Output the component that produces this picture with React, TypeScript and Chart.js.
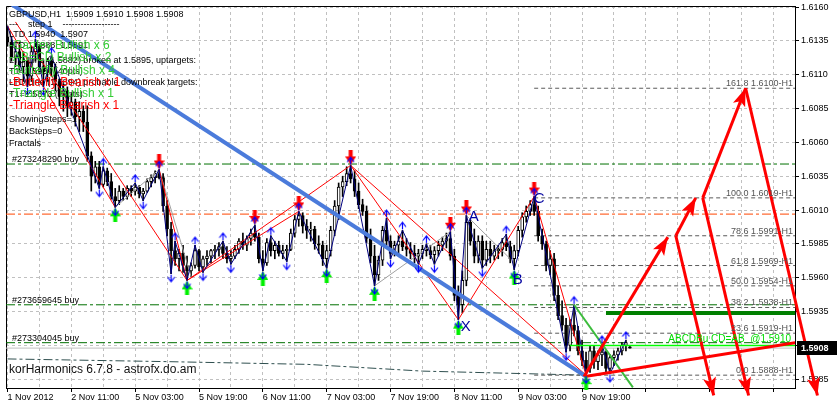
import React, { useEffect, useRef } from 'react';
import { Chart, registerables } from 'chart.js';

Chart.register(...registerables);

// ---------- DATA ----------
const OPENS = [
  1.6138, 1.6134, 1.6123, 1.6127, 1.6116, 1.6120, 1.6109, 1.6127, 1.6131, 1.6116,
  1.6112, 1.6120, 1.6116, 1.6105, 1.6094, 1.6098, 1.6087, 1.6090, 1.6079, 1.6083,
  1.6075, 1.6050, 1.6035, 1.6042, 1.6029, 1.6039, 1.6031, 1.6020, 1.6017, 1.6024,
  1.6020, 1.6026, 1.6024, 1.6027, 1.6022, 1.6024, 1.6031, 1.6034, 1.6037, 1.6034,
  1.6013, 1.5996, 1.5980, 1.5974, 1.5978, 1.5969, 1.5965, 1.5969, 1.5980, 1.5968,
  1.5974, 1.5976, 1.5980, 1.5981, 1.5983, 1.5978, 1.5974, 1.5976, 1.5981, 1.5987,
  1.5984, 1.5989, 1.5993, 1.5990, 1.5974, 1.5971, 1.5986, 1.5980, 1.5984, 1.5978,
  1.5980, 1.5981, 1.5993, 1.6003, 1.6006, 1.5998, 1.5995, 1.5996, 1.5985, 1.5984,
  1.5974, 1.5980, 1.5995, 1.6013, 1.6027, 1.6031, 1.6037, 1.6033, 1.6024, 1.6014,
  1.6009, 1.5989, 1.5976, 1.5962, 1.5973, 1.5995, 1.5987, 1.5978, 1.5984, 1.5987,
  1.5983, 1.5981, 1.5978, 1.5976, 1.5978, 1.5981, 1.5980, 1.5977, 1.5980, 1.5984,
  1.5987, 1.5989, 1.5976, 1.5947, 1.5940, 1.5958, 1.6001, 1.5987, 1.5976, 1.5987,
  1.5973, 1.5981, 1.5976, 1.5980, 1.5981, 1.5986, 1.5983, 1.5974, 1.5980, 1.5995,
  1.6005, 1.6009, 1.6014, 1.6009, 1.5991, 1.5985, 1.5969, 1.5974, 1.5947, 1.5932,
  1.5925, 1.5910, 1.5925, 1.5921, 1.5906, 1.5899, 1.5893, 1.5906, 1.5898, 1.5903,
  1.5905, 1.5893, 1.5901, 1.5903, 1.5906, 1.5910, 1.5909,
];
const HIGHS = [
  1.6146, 1.6138, 1.6131, 1.6134, 1.6127, 1.6123, 1.6131, 1.6136, 1.6132, 1.6120,
  1.6122, 1.6124, 1.6118, 1.6107, 1.6103, 1.6101, 1.6096, 1.6092, 1.6090, 1.6087,
  1.6087, 1.6053, 1.6046, 1.6046, 1.6042, 1.6041, 1.6037, 1.6026, 1.6028, 1.6026,
  1.6028, 1.6028, 1.6030, 1.6028, 1.6026, 1.6033, 1.6036, 1.6039, 1.6040, 1.6037,
  1.6017, 1.6001, 1.5987, 1.5981, 1.5984, 1.5976, 1.5971, 1.5984, 1.5981, 1.5976,
  1.5980, 1.5981, 1.5984, 1.5986, 1.5987, 1.5983, 1.5980, 1.5984, 1.5989, 1.5993,
  1.5991, 1.5996, 1.5999, 1.5993, 1.5980, 1.5989, 1.5991, 1.5987, 1.5987, 1.5984,
  1.5984, 1.5996, 1.6006, 1.6009, 1.6008, 1.6003, 1.6001, 1.5998, 1.5991, 1.5987,
  1.5984, 1.5998, 1.6017, 1.6030, 1.6035, 1.6042, 1.6043, 1.6039, 1.6030, 1.6018,
  1.6013, 1.5996, 1.5984, 1.5976, 1.5998, 1.6004, 1.5991, 1.5987, 1.5991, 1.5995,
  1.5989, 1.5986, 1.5984, 1.5981, 1.5984, 1.5985, 1.5984, 1.5983, 1.5987, 1.5990,
  1.5993, 1.5994, 1.5981, 1.5954, 1.5965, 1.6006, 1.6003, 1.5996, 1.5991, 1.5991,
  1.5987, 1.5987, 1.5984, 1.5984, 1.5989, 1.5992, 1.5987, 1.5984, 1.5998, 1.6008,
  1.6013, 1.6017, 1.6020, 1.6013, 1.5996, 1.5987, 1.5980, 1.5978, 1.5954, 1.5943,
  1.5930, 1.5929, 1.5940, 1.5924, 1.5914, 1.5905, 1.5910, 1.5910, 1.5906, 1.5911,
  1.5906, 1.5903, 1.5906, 1.5908, 1.5912, 1.5914, 1.5910,
];
const LOWS = [
  1.6131, 1.6120, 1.6116, 1.6112, 1.6105, 1.6101, 1.6105, 1.6120, 1.6112, 1.6101,
  1.6105, 1.6109, 1.6098, 1.6087, 1.6083, 1.6079, 1.6080, 1.6072, 1.6068, 1.6068,
  1.6046, 1.6024, 1.6030, 1.6026, 1.6027, 1.6028, 1.6018, 1.6012, 1.6014, 1.6017,
  1.6018, 1.6020, 1.6021, 1.6019, 1.6017, 1.6023, 1.6027, 1.6030, 1.6033, 1.6009,
  1.5991, 1.5963, 1.5969, 1.5965, 1.5964, 1.5958, 1.5961, 1.5967, 1.5965, 1.5964,
  1.5969, 1.5971, 1.5974, 1.5976, 1.5974, 1.5971, 1.5970, 1.5974, 1.5978, 1.5981,
  1.5980, 1.5984, 1.5987, 1.5971, 1.5965, 1.5969, 1.5976, 1.5974, 1.5976, 1.5974,
  1.5972, 1.5980, 1.5990, 1.5998, 1.5993, 1.5989, 1.5987, 1.5981, 1.5978, 1.5969,
  1.5967, 1.5976, 1.5991, 1.6003, 1.6020, 1.6028, 1.6030, 1.6020, 1.6011, 1.6006,
  1.5986, 1.5971, 1.5954, 1.5958, 1.5969, 1.5984, 1.5974, 1.5976, 1.5978, 1.5980,
  1.5976, 1.5974, 1.5971, 1.5970, 1.5974, 1.5976, 1.5974, 1.5970, 1.5976, 1.5980,
  1.5982, 1.5973, 1.5943, 1.5929, 1.5934, 1.5954, 1.5984, 1.5971, 1.5971, 1.5967,
  1.5969, 1.5971, 1.5973, 1.5974, 1.5976, 1.5980, 1.5971, 1.5966, 1.5976, 1.5990,
  1.6001, 1.6006, 1.6006, 1.5987, 1.5981, 1.5965, 1.5962, 1.5943, 1.5929, 1.5921,
  1.5905, 1.5906, 1.5917, 1.5903, 1.5895, 1.5888, 1.5890, 1.5893, 1.5892, 1.5895,
  1.5890, 1.5889, 1.5895, 1.5899, 1.5903, 1.5906, 1.5908,
];
const CLOSES = [
  1.6134, 1.6123, 1.6127, 1.6116, 1.6120, 1.6109, 1.6127, 1.6131, 1.6116, 1.6112,
  1.6120, 1.6116, 1.6105, 1.6094, 1.6098, 1.6087, 1.6090, 1.6079, 1.6083, 1.6075,
  1.6050, 1.6035, 1.6042, 1.6029, 1.6039, 1.6031, 1.6020, 1.6017, 1.6024, 1.6020,
  1.6026, 1.6024, 1.6027, 1.6022, 1.6024, 1.6031, 1.6034, 1.6037, 1.6034, 1.6013,
  1.5996, 1.5980, 1.5974, 1.5978, 1.5969, 1.5965, 1.5969, 1.5980, 1.5968, 1.5974,
  1.5976, 1.5980, 1.5981, 1.5983, 1.5978, 1.5974, 1.5976, 1.5981, 1.5987, 1.5984,
  1.5989, 1.5993, 1.5990, 1.5974, 1.5971, 1.5986, 1.5980, 1.5984, 1.5978, 1.5980,
  1.5981, 1.5993, 1.6003, 1.6006, 1.5998, 1.5995, 1.5996, 1.5985, 1.5984, 1.5974,
  1.5980, 1.5995, 1.6013, 1.6027, 1.6031, 1.6037, 1.6033, 1.6024, 1.6014, 1.6009,
  1.5989, 1.5976, 1.5962, 1.5973, 1.5995, 1.5987, 1.5978, 1.5984, 1.5987, 1.5983,
  1.5981, 1.5978, 1.5976, 1.5978, 1.5981, 1.5980, 1.5977, 1.5980, 1.5984, 1.5987,
  1.5989, 1.5976, 1.5947, 1.5940, 1.5958, 1.6001, 1.5987, 1.5976, 1.5987, 1.5973,
  1.5981, 1.5976, 1.5980, 1.5981, 1.5986, 1.5983, 1.5974, 1.5980, 1.5995, 1.6005,
  1.6009, 1.6014, 1.6009, 1.5991, 1.5985, 1.5969, 1.5974, 1.5947, 1.5932, 1.5925,
  1.5910, 1.5925, 1.5921, 1.5906, 1.5899, 1.5893, 1.5906, 1.5898, 1.5903, 1.5905,
  1.5893, 1.5901, 1.5903, 1.5906, 1.5910, 1.5912, 1.5908,
];

const X_TICK_LABELS = [
  '1 Nov 2012', '2 Nov 11:00', '5 Nov 03:00', '5 Nov 19:00', '6 Nov 11:00',
  '7 Nov 03:00', '7 Nov 19:00', '8 Nov 11:00', '9 Nov 03:00', '9 Nov 19:00',
];
const Y_TICKS = [1.5885, 1.5910, 1.5935, 1.5960, 1.5985, 1.6010, 1.6035, 1.6060, 1.6085, 1.6110, 1.6135, 1.6160];
const CURRENT_PRICE = 1.5908;

const FIB_LEVELS = [161.8, 100.0, 78.6, 61.8, 50.0, 38.2, 23.6, 0.0];
const FIB_PRICES = [1.6100, 1.6019, 1.5991, 1.5969, 1.5954, 1.5938, 1.5919, 1.5888];
const FIB_START_BAR = 132;

const ORDER_NAMES = ['#273248290 buy', '#273659645 buy', '#273304045 buy'];
const ORDER_PRICES = [1.6044, 1.5940, 1.5912];
const ALERT_PRICE = 1.6007;
const LTD_LINE = [[0, 1.5900], [40, 1.5898], [75, 1.5896], [104, 1.5891], [145, 1.5888]];

const ZIGZAG: [number, string][] = [
  [0, 'H'], [5, 'L'], [7, 'H'], [9, 'L'], [11, 'H'], [23, 'L'], [24, 'H'], [27, 'L'], [32, 'H'], [34, 'L'],
  [38, 'H'], [41, 'L'], [42, 'H'], [45, 'L'], [47, 'H'], [49, 'L'], [54, 'H'], [56, 'L'], [62, 'H'], [64, 'L'],
  [66, 'H'], [70, 'L'], [73, 'H'], [80, 'L'], [86, 'H'], [92, 'L'], [95, 'H'], [96, 'L'], [99, 'H'], [103, 'L'],
  [105, 'H'], [107, 'L'], [111, 'H'], [113, 'L'], [115, 'H'], [119, 'L'], [125, 'H'], [127, 'L'], [132, 'H'],
  [140, 'L'], [142, 'H'], [145, 'L'], [149, 'H'], [151, 'L'], [155, 'H'],
];
const RED_ARROW_BARS = [38, 62, 73, 86, 111, 115, 132];
const GREEN_ARROW_BARS = [27, 45, 64, 80, 92, 113, 127, 145];

const RED_THIN_LINES = [
  [0, 1.6146, 27, 1.6012], [2, 1.6149, 45, 1.5958], [38, 1.6040, 45, 1.5958],
  [45, 1.5958, 73, 1.6009], [45, 1.5958, 86, 1.6043], [86, 1.6043, 113, 1.5929],
  [86, 1.6043, 145, 1.5888], [113, 1.5929, 132, 1.6020], [132, 1.6020, 145, 1.5888],
];
const GRAY_LINES = [
  [27, 1.6012, 38, 1.6040], [38, 1.6040, 46, 1.5961], [92, 1.5954, 111, 1.5994], [115, 1.6006, 126, 1.5974],
];
const TREND_LINE = [[1, 1.6162], [145, 1.5887]];
const PROJ_ARROWS = [
  [144.5, 1.5887, 165.5, 1.5990], [167.5, 1.5991, 172.5, 1.6019], [174.25, 1.6019, 185, 1.6100],
  [167.5, 1.5991, 177, 1.5873], [174.25, 1.6019, 185.75, 1.5873], [185, 1.6100, 203, 1.5873],
];
const PROJ_BASE_LINE = [[144.75, 1.5887], [197.4, 1.5912]];
const GREEN_PATTERN_LINE = [[142, 1.5940], [156.75, 1.5879]];
const ABCD_PRICE = 1.5910;
const ABCD_START_BAR = 141;
const ABCD_TEXT = 'ABCDBu CD=AB  @1.5910';
const TARGET_PRICE = 1.5934;
const TARGET_START_BAR = 150;

const LETTERS = ['X', 'A', 'B', 'C'];
const LETTER_BARS = [113, 115, 127, 132];
const LETTER_KIND = ['L', 'H', 'L', 'H'];

const INFO_LINES = [
  'GBPUSD,H1  1.5909 1.5910 1.5908 1.5908',
  '---    step 1    -------------------',
  'LTD 1.5940  1.5907',
  'LTD 1.5888  1.5891',
  'LTD Line (1.5882) broken at 1.5895, uptargets:',
  'T1=1.5934 (40pts)',
  'LTD Line (1.5894) probable downbreak targets:',
  'T1=1.5873 (20pts)',
  'ShowingSteps=1',
  'BackSteps=0',
  'Fractals',
];
const PATTERN_LINES = [
  '-Gartley Bullish x 6', '-AB=CD Bullish x 2', '-Butterfly Bullish x 4',
  '-Butterfly Bearish x 1', '-Triangle Bullish x 1', '-Triangle Bearish x 1',
];
const PATTERN_BULL = [true, true, true, false, true, false];
const WATERMARK = 'korHarmonics 6.7.8 - astrofx.do.am';

// ---------- LAYOUT / STYLE ----------
const W = 837;
const H = 407;
const X_MIN = -0.375;
const X_MAX = 197.375;
const Y_MIN = 1.587852;
const Y_MAX = 1.616076;
const X_GRID_STEP = 8;
const FONT = '"Liberation Sans", Arial, sans-serif';
const INFO_BASELINES = [17, 27, 37, 48, 63, 74, 85, 97, 122, 134, 146];
const PATTERN_BASELINES = [49, 61, 74, 86, 97, 109];
const LETTER_OFFSETS = [[2.5, 11], [2.5, 5.5], [-1.5, 14], [-0.5, 6.5]];
const DASHDOT = [9, 3, 3, 3];

function makeBigArrow(color: string, up: boolean): HTMLCanvasElement {
  const c = document.createElement('canvas');
  c.width = 11;
  c.height = 30;
  const g = c.getContext('2d') as CanvasRenderingContext2D;
  g.fillStyle = color;
  if (!up) {
    g.fillRect(3.5, 0, 4, 8);
    g.beginPath();
    g.moveTo(0, 6);
    g.lineTo(11, 6);
    g.lineTo(5.5, 14.5);
    g.closePath();
    g.fill();
  } else {
    g.fillRect(3.5, 22, 4, 8);
    g.beginPath();
    g.moveTo(0, 24);
    g.lineTo(11, 24);
    g.lineTo(5.5, 15.5);
    g.closePath();
    g.fill();
  }
  return c;
}

function makeFractal(up: boolean): HTMLCanvasElement {
  const c = document.createElement('canvas');
  c.width = 9;
  c.height = 24;
  const g = c.getContext('2d') as CanvasRenderingContext2D;
  g.strokeStyle = '#0000ff';
  g.lineWidth = 1.2;
  g.beginPath();
  if (up) {
    g.moveTo(1, 8.5); g.lineTo(4.5, 4); g.lineTo(8, 8.5);
    g.moveTo(4.5, 4); g.lineTo(4.5, 11);
  } else {
    g.moveTo(1, 15.5); g.lineTo(4.5, 20); g.lineTo(8, 15.5);
    g.moveTo(4.5, 20); g.lineTo(4.5, 13);
  }
  g.stroke();
  return c;
}

const lineDs = (pts: number[][], color: string, width: number, order: number, extra: any = {}) => ({
  type: 'line',
  data: pts.map((p) => ({ x: p[0], y: p[1] })),
  borderColor: color,
  borderWidth: width,
  pointRadius: 0,
  pointHoverRadius: 0,
  pointHitRadius: 0,
  fill: false,
  tension: 0,
  order,
  ...extra,
});

const zzPrice = (bar: number, kind: string) => (kind === 'H' ? HIGHS[bar] : LOWS[bar]);

export default function App() {
  const ref = useRef<HTMLCanvasElement | null>(null);

  useEffect(() => {
    document.body.style.margin = '0';
    const canvas = ref.current;
    if (!canvas) return;

    const redArrow = makeBigArrow('#ff0000', false);
    const greenArrow = makeBigArrow('#00f000', true);
    const fracUp = makeFractal(true);
    const fracDown = makeFractal(false);

    const bars = CLOSES.map((_, i) => i);
    const datasets: any[] = [];

    FIB_PRICES.forEach((p) =>
      datasets.push(lineDs([[FIB_START_BAR, p], [X_MAX, p]], '#5a5a5a', 1, 100, { borderDash: [4, 3] }))
    );
    ORDER_PRICES.forEach((p) =>
      datasets.push(lineDs([[X_MIN, p], [X_MAX, p]], '#007000', 1, 100, { borderDash: DASHDOT }))
    );
    datasets.push(lineDs([[X_MIN, ALERT_PRICE], [X_MAX, ALERT_PRICE]], '#ff4500', 1, 100, { borderDash: DASHDOT }));
    datasets.push(lineDs([[X_MIN, CURRENT_PRICE], [X_MAX, CURRENT_PRICE]], '#c0c0c0', 1, 100));
    datasets.push(lineDs(LTD_LINE, '#2f4f4f', 1, 100, { borderDash: DASHDOT }));

    datasets.push({
      type: 'bar',
      data: bars.map((i) => ({ x: i, y: [LOWS[i], HIGHS[i]] })),
      backgroundColor: '#000000',
      borderWidth: 0,
      barThickness: 1,
      grouped: false,
      order: 95,
    });
    datasets.push({
      type: 'bar',
      data: bars.map((i) => ({ x: i, y: [OPENS[i], CLOSES[i]] })),
      backgroundColor: bars.map((i) => (CLOSES[i] > OPENS[i] ? '#ffffff' : '#000000')),
      borderColor: '#000000',
      borderWidth: 1,
      borderSkipped: false,
      barThickness: 3,
      grouped: false,
      order: 94,
    });

    GRAY_LINES.forEach((l) => datasets.push(lineDs([[l[0], l[1]], [l[2], l[3]]], '#a0a0a0', 1, 80)));
    RED_THIN_LINES.forEach((l) => datasets.push(lineDs([[l[0], l[1]], [l[2], l[3]]], '#ff0000', 1, 79)));
    datasets.push(lineDs(ZIGZAG.map(([b, k]) => [b, zzPrice(b, k)]), '#000080', 1, 78));
    datasets.push(lineDs(TREND_LINE, '#4b7bdb', 4, 77));

    datasets.push(lineDs(GREEN_PATTERN_LINE, '#3cbc3c', 2, 70));
    datasets.push(lineDs([[ABCD_START_BAR, ABCD_PRICE], [X_MAX, ABCD_PRICE]], '#00ff00', 1.5, 70));
    datasets.push(lineDs([[TARGET_START_BAR, TARGET_PRICE], [X_MAX, TARGET_PRICE]], '#007f00', 4, 70));

    PROJ_ARROWS.forEach((l) =>
      datasets.push(lineDs([[l[0], l[1]], [l[2], l[3]]], '#ff0000', 3, 60, { clip: false, arrowHead: true }))
    );
    datasets.push(lineDs(PROJ_BASE_LINE, '#ff0000', 3, 60));

    datasets.push({
      type: 'line', showLine: false, order: 50, pointStyle: redArrow, pointRadius: 5, clip: false,
      data: RED_ARROW_BARS.map((b) => ({ x: b, y: HIGHS[b] })),
    });
    datasets.push({
      type: 'line', showLine: false, order: 50, pointStyle: greenArrow, pointRadius: 5, clip: false,
      data: GREEN_ARROW_BARS.map((b) => ({ x: b, y: LOWS[b] })),
    });
    datasets.push({
      type: 'line', showLine: false, order: 40, pointStyle: fracUp, pointRadius: 5, clip: false,
      data: ZIGZAG.filter(([b, k]) => k === 'H' && b > 0).map(([b]) => ({ x: b, y: HIGHS[b] })),
    });
    datasets.push({
      type: 'line', showLine: false, order: 40, pointStyle: fracDown, pointRadius: 5, clip: false,
      data: ZIGZAG.filter(([, k]) => k === 'L').map(([b]) => ({ x: b, y: LOWS[b] })),
    });

    const framePlugin = {
      id: 'frame',
      beforeDatasetsDraw(chart: any) {
        const { ctx, chartArea: a } = chart;
        ctx.save();
        ctx.strokeStyle = '#000';
        ctx.lineWidth = 1;
        ctx.beginPath();
        ctx.moveTo(a.left + 0.5, a.bottom);
        ctx.lineTo(a.left + 0.5, a.top + 0.5);
        ctx.lineTo(a.right, a.top + 0.5);
        ctx.stroke();
        ctx.restore();
      },
    };

    const arrowPlugin = {
      id: 'arrowHeads',
      afterDatasetsDraw(chart: any) {
        const ctx = chart.ctx;
        chart.data.datasets.forEach((ds: any, i: number) => {
          if (!ds.arrowHead) return;
          const pts = chart.getDatasetMeta(i).data;
          const a = pts[pts.length - 2];
          const b = pts[pts.length - 1];
          const ang = Math.atan2(b.y - a.y, b.x - a.x);
          const L = 18;
          const Wd = 6.5;
          const bx = b.x - L * Math.cos(ang);
          const by = b.y - L * Math.sin(ang);
          ctx.save();
          ctx.fillStyle = ds.borderColor;
          ctx.beginPath();
          ctx.moveTo(b.x, b.y);
          ctx.lineTo(bx + Wd * Math.sin(ang), by - Wd * Math.cos(ang));
          ctx.lineTo(bx + 4 * Math.cos(ang), by + 4 * Math.sin(ang));
          ctx.lineTo(bx - Wd * Math.sin(ang), by + Wd * Math.cos(ang));
          ctx.closePath();
          ctx.fill();
          ctx.restore();
        });
      },
    };

    const textPlugin = {
      id: 'mtText',
      afterDatasetsDraw(chart: any) {
        const { ctx, chartArea: a } = chart;
        const x = chart.scales.x;
        const y = chart.scales.y;
        ctx.save();
        ctx.textBaseline = 'alphabetic';

        ctx.textAlign = 'left';
        ctx.font = `9px ${FONT}`;
        ctx.fillStyle = '#000';
        ORDER_PRICES.forEach((p, k) => ctx.fillText(ORDER_NAMES[k], a.left + 6, y.getPixelForValue(p) - 2));

        ctx.textAlign = 'right';
        ctx.fillStyle = '#555555';
        FIB_LEVELS.forEach((lv, k) => {
          ctx.fillText(`${lv.toFixed(1)} ${FIB_PRICES[k].toFixed(4)}-H1`, a.right - 2, y.getPixelForValue(FIB_PRICES[k]) - 2);
        });

        ctx.font = `10px ${FONT}`;
        ctx.fillStyle = '#00dd00';
        ctx.fillText(ABCD_TEXT, a.right - 4, y.getPixelForValue(ABCD_PRICE) - 3);

        ctx.textAlign = 'left';
        ctx.font = `15px ${FONT}`;
        ctx.fillStyle = '#0000a0';
        LETTERS.forEach((t, k) => {
          const b = LETTER_BARS[k];
          const p = LETTER_KIND[k] === 'H' ? HIGHS[b] : LOWS[b];
          ctx.fillText(t, x.getPixelForValue(b) + LETTER_OFFSETS[k][0], y.getPixelForValue(p) + LETTER_OFFSETS[k][1]);
        });

        ctx.font = `9px ${FONT}`;
        ctx.fillStyle = '#000';
        INFO_LINES.forEach((t, k) => ctx.fillText(t, 9, INFO_BASELINES[k]));

        ctx.font = `12px ${FONT}`;
        PATTERN_LINES.forEach((t, k) => {
          ctx.fillStyle = PATTERN_BULL[k] ? '#33cc33' : '#ff0000';
          ctx.fillText(t, 9, PATTERN_BASELINES[k]);
        });

        ctx.font = `12px ${FONT}`;
        ctx.fillStyle = '#111';
        ctx.fillText(WATERMARK, 9, 373);
        ctx.restore();
      },
      afterDraw(chart: any) {
        const { ctx, chartArea: a } = chart;
        const yp = Math.round(chart.scales.y.getPixelForValue(CURRENT_PRICE));
        ctx.save();
        ctx.fillStyle = '#000';
        ctx.fillRect(a.right + 2, yp - 7, W - a.right - 2, 14);
        ctx.fillStyle = '#fff';
        ctx.font = `bold 9px ${FONT}`;
        ctx.textAlign = 'left';
        ctx.textBaseline = 'middle';
        ctx.fillText(CURRENT_PRICE.toFixed(4), a.right + 6, yp + 0.5);
        ctx.restore();
      },
    };

    const chart = new Chart(canvas, {
      type: 'bar',
      data: { datasets },
      options: {
        animation: false,
        responsive: false,
        devicePixelRatio: 1,
        events: [],
        layout: { padding: { left: 4, top: 4, right: 0, bottom: 0 } },
        plugins: { legend: { display: false }, tooltip: { enabled: false } },
        scales: {
          x: {
            type: 'linear',
            min: X_MIN,
            max: X_MAX,
            offset: false,
            afterBuildTicks: (s: any) => {
              const t: any[] = [];
              for (let v = 0; v <= X_MAX; v += X_GRID_STEP) t.push({ value: v });
              s.ticks = t;
            },
            afterFit: (s: any) => {
              s.height = H - 388;
              s.paddingLeft = 0;
              s.paddingRight = 0;
            },
            grid: {
              color: '#c0c0c0',
              lineWidth: 1,
              offset: false,
              drawTicks: true,
              tickLength: 4,
              tickColor: (c: any) => (c.index % 2 === 0 ? '#000' : 'rgba(0,0,0,0)'),
            },
            border: { display: true, color: '#000', width: 1, dash: [3, 3] },
            ticks: {
              autoSkip: false,
              maxRotation: 0,
              minRotation: 0,
              align: 'start',
              padding: 0,
              color: '#000',
              font: { family: FONT, size: 9 },
              callback: (_v: any, i: number) => (i % 2 === 0 ? X_TICK_LABELS[i / 2] ?? '' : ''),
            },
          },
          y: {
            type: 'linear',
            position: 'right',
            min: Y_MIN,
            max: Y_MAX,
            afterBuildTicks: (s: any) => {
              s.ticks = Y_TICKS.map((v) => ({ value: v }));
            },
            afterFit: (s: any) => {
              s.width = W - 795;
              s.paddingTop = 0;
              s.paddingBottom = 0;
            },
            grid: { color: '#c0c0c0', lineWidth: 1, drawTicks: true, tickLength: 4, tickColor: '#000' },
            border: { display: true, color: '#000', width: 1, dash: [3, 3] },
            ticks: {
              padding: 2,
              color: '#000',
              font: { family: FONT, size: 9 },
              callback: (v: any) => Number(v).toFixed(4),
            },
          },
        },
      } as any,
      plugins: [framePlugin, arrowPlugin, textPlugin],
    } as any);

    return () => chart.destroy();
  }, []);

  return (
    <div style={{ width: W, height: H }}>
      <canvas ref={ref} width={W} height={H} style={{ display: 'block', width: W, height: H }} />
    </div>
  );
}
